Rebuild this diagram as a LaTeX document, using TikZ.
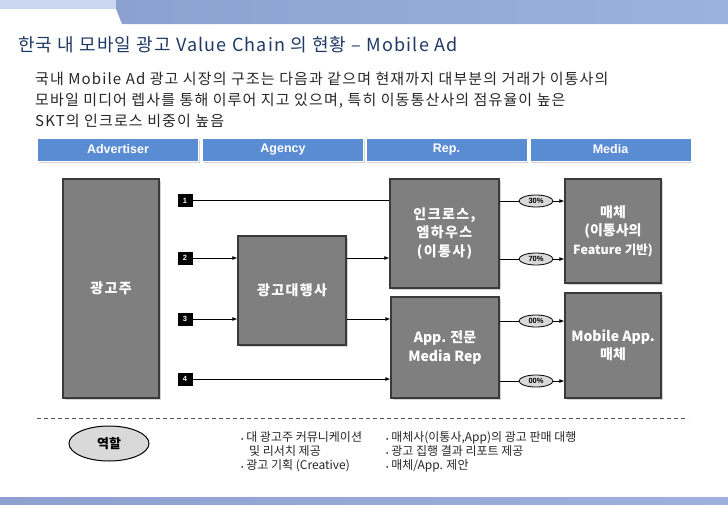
\documentclass[tikz,border=0pt]{standalone}
\usepackage{fontspec}
\setmainfont{Noto Sans CJK KR}
\newfontfamily\arialfont{Liberation Sans}
\newfontfamily\titlefont[LetterSpace=6.5]{Noto Sans CJK KR}
\newfontfamily\bodyfont[LetterSpace=7.5]{Noto Sans CJK KR}
\newfontfamily\kspaced[LetterSpace=10]{Noto Sans CJK KR}
\usetikzlibrary{shadows,arrows.meta,shapes.geometric}
\definecolor{barblue}{HTML}{5A8CD4}
\definecolor{boxgray}{HTML}{7F7F7F}
\definecolor{boxedge}{HTML}{3A3A3A}
\definecolor{titleblue}{HTML}{1F3864}
\definecolor{ellgray}{HTML}{D9D9D9}
\definecolor{bodytext}{HTML}{262626}
\definecolor{banA}{HTML}{8CA1CF}
\definecolor{banB}{HTML}{B3C4E6}
\definecolor{banC}{HTML}{9CB1DD}
\begin{document}
\begin{tikzpicture}[x=1pt,y=-1pt,
  bluebar/.style={draw=white, line width=1pt, fill=barblue, minimum width=161pt, minimum height=23pt, inner sep=0pt, text=white, font=\arialfont\bfseries\fontsize{12.5}{14}\selectfont, drop shadow={shadow xshift=1.2pt, shadow yshift=-1.5pt, opacity=0.35}},
  graybox/.style={draw=boxedge, line width=1.3pt, fill=boxgray, text=white, font=\bfseries\fontsize{14}{18.5}\selectfont, align=center, inner sep=0pt, drop shadow={shadow xshift=1.5pt, shadow yshift=-1.5pt, opacity=0.35}},
  numbox/.style={fill=black, text=white, minimum width=15pt, minimum height=13pt, inner sep=0pt, font=\arialfont\bfseries\fontsize{7.5}{8}\selectfont},
  pct/.style={ellipse, draw=black, line width=0.8pt, fill=ellgray, minimum width=34pt, minimum height=12pt, inner sep=0pt, font=\arialfont\bfseries\fontsize{7.5}{8}\selectfont},
  flow/.style={line width=0.8pt, -{Latex[length=5pt,width=4pt]}},
  plainline/.style={line width=0.8pt},
  titletext/.style={anchor=base west, inner sep=0pt, text=titleblue, font=\titlefont\fontsize{18}{20}\selectfont},
  bodyline/.style={anchor=base west, inner sep=0pt, text=bodytext, font=\bodyfont\fontsize{15}{17}\selectfont},
  roleline/.style={anchor=base west, inner sep=0pt, text=bodytext, font=\fontsize{12}{14}\selectfont}
]
\useasboundingbox (0,0) rectangle (728,504);
% top banner
\fill[banB!70!white] (0,0) rectangle (120,9);
\shade[left color=banA, middle color=banB, right color=banC] (116,0) -- (728,0) -- (728,24) -- (122,24) -- (116,9) -- cycle;
% bottom banner
\shade[left color=banA, middle color=white!85!banB, right color=banC] (0,497) rectangle (728,504);

% title and intro
\node[titletext] (title) at (18,51) {한국 내 모바일 광고 Value Chain 의 현황 – Mobile Ad};
\node[bodyline] (body1) at (35,84) {국내 Mobile Ad 광고 시장의 구조는 다음과 같으며 현재까지 대부분의 거래가 이통사의};
\node[bodyline] (body2) at (35,105) {모바일 미디어 렙사를 통해 이루어 지고 있으며, 특히 이동통산사의 점유율이 높은};
\node[bodyline] (body3) at (35,126) {SKT의 인크로스 비중이 높음};

% header bars
\node[bluebar] (h1) at (118,149.5) {Advertiser};
\node[bluebar] (h2) at (283,149.5) {Agency};
\node[bluebar] (h3) at (446.5,149.5) {Rep.};
\node[bluebar] (h4) at (610.5,149.5) {Media};

% main boxes
\node[graybox, minimum width=96pt, minimum height=219pt] (adv) at (111,288.5) {\kspaced 광고주};
\node[graybox, minimum width=108pt, minimum height=109pt] (agency) at (292,290.5) {\kspaced 광고대행사};
\node[graybox, minimum width=109pt, minimum height=109pt] (rep1) at (444.5,233.5) {\kspaced 인크로스,\\\kspaced 엠하우스\\\kspaced (이통사)};
\node[graybox, minimum width=108pt, minimum height=101pt] (rep2) at (445,347.5) {App. 전문\\Media Rep};
\node[graybox, minimum width=96pt, minimum height=104pt] (med1) at (613,231) {매체\\(이통사의\\{\fontsize{12.5}{18.5}\selectfont Feature 기반)}};
\node[graybox, minimum width=96pt, minimum height=105pt] (med2) at (613,345.5) {Mobile App.\\매체};

% number squares
\node[numbox] (n1) at (185,200.5) {1};
\node[numbox] (n2) at (185,258) {2};
\node[numbox] (n3) at (185,319) {3};
\node[numbox] (n4) at (185,379) {4};

% percent ellipses
\node[pct] (p1) at (536,201) {30\%};
\node[pct] (p2) at (536,259) {70\%};
\node[pct] (p3) at (536,321) {00\%};
\node[pct] (p4) at (536,381) {00\%};

% connectors
\draw[plainline] (n1.east) -- (n1.east -| rep1.west);
\draw[flow] (n2.east) -- (n2.east -| agency.west);
\draw[flow] (n2.east -| agency.east) -- (n2.east -| rep1.west);
\draw[flow] (n3.east) -- (n3.east -| agency.west);
\draw[flow] (n3.east -| agency.east) -- (n3.east -| rep2.west);
\draw[flow] (n4.east) -- (n4.east -| rep2.west);

\draw[plainline] (p1.west -| rep1.east) -- (p1.west);
\draw[flow] (p1.east) -- (p1.east -| med1.west);
\draw[plainline] (p2.west -| rep1.east) -- (p2.west);
\draw[flow] (p2.east) -- (p2.east -| med1.west);
\draw[plainline] (p3.west -| rep2.east) -- (p3.west);
\draw[flow] (p3.east) -- (p3.east -| med2.west);
\draw[plainline] (p4.west -| rep2.east) -- (p4.west);
\draw[flow] (p4.east) -- (p4.east -| med2.west);

% dashed separator
\coordinate (dashL) at (37,418);
\coordinate (dashR) at (688,418);
\draw[black!65, line width=0.8pt, dash pattern=on 4pt off 3pt] (dashL) -- (dashR);

% role
\node[ellipse, draw=black, line width=1pt, fill=ellgray, minimum width=80pt, minimum height=35pt, inner sep=0pt, font=\bfseries\fontsize{13}{14}\selectfont] (role) at (109,443.5) {역할};

\node[roleline] (r1) at (241,441) {{\fontsize{7}{7}\selectfont •} 대 광고주 커뮤니케이션};
\node[roleline] (r2) at (249,455) {및 리서치 제공};
\node[roleline] (r3) at (241,469) {{\fontsize{7}{7}\selectfont •} 광고 기획 (Creative)};
\node[roleline] (r4) at (386,441) {{\fontsize{7}{7}\selectfont •} 매체사(이통사,App)의 광고 판매 대행};
\node[roleline] (r5) at (386,455) {{\fontsize{7}{7}\selectfont •} 광고 집행 결과 리포트 제공};
\node[roleline] (r6) at (386,469) {{\fontsize{7}{7}\selectfont •} 매체/App. 제안};
\end{tikzpicture}
\end{document}
